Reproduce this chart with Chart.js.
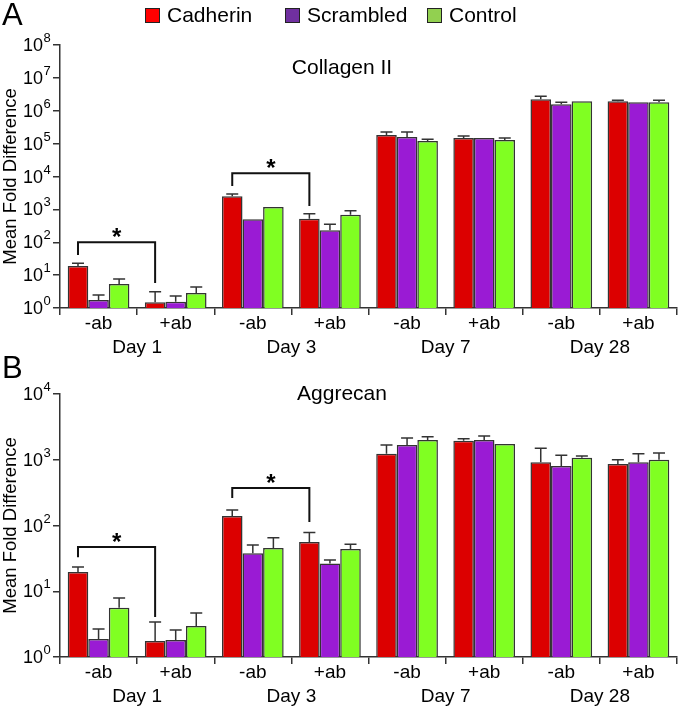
<!DOCTYPE html>
<html>
<head>
<meta charset="utf-8">
<script src="https://cdn.jsdelivr.net/npm/chart.js@4.4.1/dist/chart.umd.min.js"></script>
<style>
  body { margin: 0; background: #fff; font-family: "Liberation Sans", Arial, sans-serif; }
  #wrap { position: relative; width: 680px; height: 710px; overflow: hidden; }
  canvas { position: absolute; left: 0; }
  #chartA { top: 0; }
  #chartB { top: 355px; }
  .panel { position: absolute; left: 2px; font-size: 31px; line-height: 1; color: #000; }
  .item { position: absolute; top: 3px; display: flex; align-items: center; font-size: 21px; color: #000; }
  .box { width: 13px; height: 13px; border: 1.5px solid #222; margin-right: 7px; }
</style>
</head>
<body>
<div id="wrap">
  <canvas id="chartA" width="680" height="362"></canvas>
  <canvas id="chartB" width="680" height="355"></canvas>
  <div class="panel" style="top:-1px">A</div>
  <div class="panel" style="top:352px">B</div>
  <div class="item" style="left:145px"><span class="box" style="background:#ff0000"></span>Cadherin</div>
  <div class="item" style="left:285px"><span class="box" style="background:#7030a0"></span>Scrambled</div>
  <div class="item" style="left:427px"><span class="box" style="background:#92d050"></span>Control</div>
</div>
<script>
// categories
const groups = ['-ab', '+ab', '-ab', '+ab', '-ab', '+ab', '-ab', '+ab'];
const days = ['Day 1', 'Day 3', 'Day 7', 'Day 28'];
const seriesNames = ['Cadherin', 'Scrambled', 'Control'];
const barColors = ['#dc0000', '#9a1bd4', '#80ff22'];

// A - Collagen II (mean and top of error bar)
const colCadherin    = [19, 1.5, 2500, 520, 182000, 148000, 2250000, 1950000];
const colCadherinErr = [23, 3.1, 2950, 740, 224000, 170000, 2770000, 2100000];
const colScrambled    = [1.75, 1.55, 500, 230, 158000, 148000, 1590000, 1820000];
const colScrambledErr = [2.5, 2.3, 530, 350, 224000, 158000, 1820000, 1950000];
const colControl    = [5.4, 2.85, 1180, 690, 120000, 128000, 1950000, 1820000];
const colControlErr = [7.6, 4.35, 1260, 910, 137000, 148000, 1950000, 2100000];
const colTicks = [1, 1e1, 1e2, 1e3, 1e4, 1e5, 1e6, 1e7, 1e8];
// significance brackets: categories joined, bracket top, left/right leg ends (data units)
const colSig = [
  { from: 0, to: 1, top: 100, left: 41, right: 5.8 },
  { from: 2, to: 3, top: 12600, left: 5100, right: 1260 }
];

// B - Aggrecan
const aggCadherin    = [19.6, 1.75, 139, 56, 1230, 1940, 920, 860];
const aggCadherinErr = [23.4, 3.4, 172, 78, 1670, 2080, 1500, 1000];
const aggScrambled    = [1.88, 1.81, 38, 26.5, 1670, 2000, 800, 920];
const aggScrambledErr = [2.66, 2.57, 50.5, 30, 2140, 2300, 1170, 1230];
const aggControl    = [5.6, 2.96, 45.5, 44, 2000, 1740, 1070, 1000];
const aggControlErr = [7.9, 4.67, 65, 52, 2230, 1740, 1140, 1270];
const aggTicks = [1, 1e1, 1e2, 1e3, 1e4];
const aggSig = [
  { from: 0, to: 1, top: 47, left: 33, right: 4.06 },
  { from: 2, to: 3, top: 372, left: 262, right: 113 }
];

const FONT = '"Liberation Sans", Arial, sans-serif';
Chart.defaults.font.family = FONT;
Chart.defaults.color = '#000';

// error bars, brackets, y tick labels with superscripts, panel title
const extras = {
  id: 'extras',
  afterDatasetsDraw(chart, args, opts) {
    const ctx = chart.ctx;
    const ys = chart.scales.y;
    ctx.save();
    ctx.strokeStyle = '#333';
    ctx.lineWidth = 1.5;
    chart.data.datasets.forEach((ds, i) => {
      chart.getDatasetMeta(i).data.forEach((bar, j) => {
        const top = ys.getPixelForValue(opts.errors[i][j]);
        if (top >= bar.y - 1) return;
        ctx.beginPath();
        ctx.moveTo(bar.x, bar.y);
        ctx.lineTo(bar.x, top);
        ctx.moveTo(bar.x - 6, top);
        ctx.lineTo(bar.x + 6, top);
        ctx.stroke();
      });
    });
    ctx.restore();
  },
  afterDraw(chart, args, opts) {
    const ctx = chart.ctx;
    const ys = chart.scales.y;
    const area = chart.chartArea;
    ctx.save();
    ctx.fillStyle = '#000';

    // y tick labels as 10^n
    ys.ticks.forEach(t => {
      const py = ys.getPixelForValue(t.value);
      const exp = Math.round(Math.log10(t.value));
      ctx.font = '18px ' + FONT;
      ctx.textAlign = 'right';
      ctx.textBaseline = 'alphabetic';
      ctx.fillText('10', ys.right - 17, py + 6);
      ctx.font = '13px ' + FONT;
      ctx.textAlign = 'left';
      ctx.fillText(String(exp), ys.right - 16.5, py - 3);
    });

    // panel title
    ctx.font = '21px ' + FONT;
    ctx.textAlign = 'center';
    ctx.fillText(opts.title, opts.titleX, area.top + opts.titleDy);

    // brackets
    const meta = chart.getDatasetMeta(0);
    ctx.strokeStyle = '#111';
    ctx.lineWidth = 2;
    opts.sig.forEach(s => {
      const x1 = meta.data[s.from].x;
      const x2 = meta.data[s.to].x;
      const yt = ys.getPixelForValue(s.top);
      ctx.beginPath();
      ctx.moveTo(x1, ys.getPixelForValue(s.left));
      ctx.lineTo(x1, yt);
      ctx.lineTo(x2, yt);
      ctx.lineTo(x2, ys.getPixelForValue(s.right));
      ctx.stroke();
      ctx.font = 'bold 24px ' + FONT;
      ctx.textAlign = 'center';
      ctx.fillText('*', (x1 + x2) / 2, yt + 3);
    });
    ctx.restore();
  }
};

function buildChart(id, cfg) {
  return new Chart(document.getElementById(id), {
    type: 'bar',
    data: {
      labels: groups,
      datasets: seriesNames.map((name, i) => ({
        label: name,
        data: cfg.values[i],
        backgroundColor: barColors[i],
        borderColor: '#333',
        borderWidth: 1.5,
        categoryPercentage: 0.8,
        barPercentage: 1
      }))
    },
    options: {
      responsive: false,
      animation: false,
      devicePixelRatio: 1,
      layout: { padding: { top: cfg.padTop, right: 3, bottom: cfg.padBottom, left: 0 } },
      plugins: {
        legend: { display: false },
        tooltip: { enabled: false },
        extras: {
          errors: cfg.errors,
          sig: cfg.sig,
          title: cfg.title,
          titleX: 342,
          titleDy: cfg.titleDy
        }
      },
      scales: {
        x: {
          weight: 0,
          grid: { drawOnChartArea: false, color: '#333', lineWidth: 1.5, tickLength: 7 },
          border: { color: '#333', width: 1.5 },
          ticks: { font: { size: 19 }, color: '#000', padding: -3 },
          afterFit: s => { s.height = 28; }
        },
        x2: {
          type: 'category',
          labels: days,
          position: 'bottom',
          offset: true,
          weight: 1,
          grid: { display: false, drawTicks: false },
          border: { display: false },
          ticks: { font: { size: 19 }, color: '#000', padding: 0 },
          afterFit: s => { s.height = 24; }
        },
        y: {
          type: 'logarithmic',
          min: 1,
          max: cfg.max,
          afterBuildTicks: s => { s.ticks = cfg.ticks.map(v => ({ value: v })); },
          ticks: { display: false },
          grid: { drawOnChartArea: false, color: '#333', lineWidth: 1.5, tickLength: 7 },
          border: { color: '#333', width: 1.5 },
          title: { display: true, text: 'Mean Fold Difference', font: { size: 18.5 }, color: '#000', padding: { top: 0, bottom: 0 } },
          afterFit: s => { s.width = 60; }
        }
      }
    },
    plugins: [extras]
  });
}

buildChart('chartA', {
  values: [colCadherin, colScrambled, colControl],
  errors: [colCadherinErr, colScrambledErr, colControlErr],
  ticks: colTicks,
  max: 1e8,
  sig: colSig,
  title: 'Collagen II',
  titleDy: 29,
  padTop: 45,
  padBottom: 2
});

buildChart('chartB', {
  values: [aggCadherin, aggScrambled, aggControl],
  errors: [aggCadherinErr, aggScrambledErr, aggControlErr],
  ticks: aggTicks,
  max: 1e4,
  sig: aggSig,
  title: 'Aggrecan',
  titleDy: 6,
  padTop: 39,
  padBottom: 1
});
</script>
</body>
</html>
